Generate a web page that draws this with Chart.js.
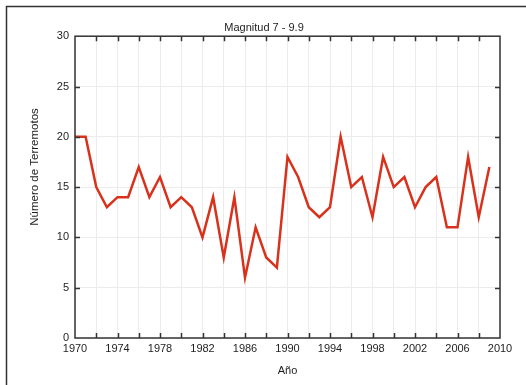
<!DOCTYPE html>
<html>
<head>
<meta charset="utf-8">
<script src="https://cdn.jsdelivr.net/npm/chart.js@4"></script>
<style>
    html, body { margin: 0; padding: 0; background: #fff; }
    #wrap { width: 526px; height: 385px; }
</style>
</head>
<body>
<div id="wrap"><canvas id="quakeChart" width="526" height="385"></canvas></div>
<script>
const years = [
    1970, 1971, 1972, 1973, 1974, 1975, 1976, 1977, 1978, 1979,
    1980, 1981, 1982, 1983, 1984, 1985, 1986, 1987, 1988, 1989,
    1990, 1991, 1992, 1993, 1994, 1995, 1996, 1997, 1998, 1999,
    2000, 2001, 2002, 2003, 2004, 2005, 2006, 2007, 2008, 2009,
];
const quakeCounts = [
    20, 20, 15, 13, 14, 14, 17, 14, 16, 13,
    14, 13, 10, 14, 8, 14, 6, 11, 8, 7,
    18, 16, 13, 12, 13, 20, 15, 16, 12, 18,
    15, 16, 13, 15, 16, 11, 11, 18, 12, 17,
];
const yTicks = [0, 5, 10, 15, 20, 25, 30];
const yTitle = "Número de Terremotos";

const textColor = "#1e1e1e";
const fontFamily = "'Liberation Sans', Arial, sans-serif";
const font = { family: fontFamily, size: 11 };

// Outer page frame, inward tick marks and the y title (sits above centre in the original)
const framePlugin = {
    id: "framePlugin",
    beforeDraw(chart) {
        const ctx = chart.ctx;
        ctx.save();
        ctx.fillStyle = "#fff";
        ctx.fillRect(0, 0, chart.width, chart.height);
        ctx.strokeStyle = "#333";
        ctx.lineWidth = 1.5;
        ctx.beginPath();
        ctx.moveTo(6.5, chart.height);
        ctx.lineTo(6.5, 6.5);
        ctx.lineTo(chart.width, 6.5);
        ctx.stroke();
        ctx.restore();
    },
    afterDraw(chart) {
        const ctx = chart.ctx;
        const a = chart.chartArea;
        const x = chart.scales.x;
        const y = chart.scales.y;
        ctx.save();
        ctx.strokeStyle = "#333";
        ctx.lineWidth = 1.5;
        ctx.beginPath();
        for (let v = 1972; v < 2010; v += 2) {
            const px = Math.round(x.getPixelForValue(v)) + 0.5;
            ctx.moveTo(px, a.bottom); ctx.lineTo(px, a.bottom - 5);
            ctx.moveTo(px, a.top); ctx.lineTo(px, a.top + 5);
        }
        yTicks.slice(1, -1).forEach(v => {
            const py = Math.round(y.getPixelForValue(v)) + 0.5;
            ctx.moveTo(a.left, py); ctx.lineTo(a.left + 5, py);
            ctx.moveTo(a.right, py); ctx.lineTo(a.right - 5, py);
        });
        ctx.stroke();
        ctx.strokeRect(a.left, a.top, a.right - a.left, a.bottom - a.top);

        ctx.translate(35, y.getPixelForValue(17));
        ctx.rotate(-Math.PI / 2);
        ctx.fillStyle = textColor;
        ctx.font = "11.5px " + fontFamily;
        ctx.textAlign = "center";
        ctx.textBaseline = "middle";
        ctx.fillText(yTitle, 0, 0);
        ctx.restore();
    },
};

new Chart(document.getElementById("quakeChart").getContext("2d"), {
    type: "line",
    data: {
        labels: years,
        datasets: [{
            label: "Magnitud 7 - 9.9",
            data: years.map((yr, i) => ({ x: yr, y: quakeCounts[i] })),
            borderColor: "#d8321c",
            borderWidth: 2.5,
            pointRadius: 0,
            tension: 0,
            fill: false,
        }],
    },
    options: {
        responsive: false,
        animation: false,
        layout: { padding: { left: 28, right: 26, top: 0, bottom: 7 } },
        plugins: {
            legend: { display: false },
            tooltip: { enabled: false },
            title: {
                display: true,
                text: "Magnitud 7 - 9.9",
                color: textColor,
                font: { ...font, size: 11, weight: "normal" },
                padding: { top: 21, bottom: 2 },
            },
        },
        scales: {
            x: {
                type: "linear",
                min: 1970,
                max: 2010,
                afterFit: s => { s.height = 40; },
                ticks: {
                    stepSize: 2,
                    color: textColor,
                    font: font,
                    padding: 4,
                    maxRotation: 0,
                    autoSkip: false,
                    callback: v => ((v - 1970) % 4 === 0 ? String(v) : ""),
                },
                grid: { color: "#ececec", lineWidth: 1, drawTicks: false },
                border: { display: false },
                title: {
                    display: true,
                    text: "Año",
                    color: textColor,
                    font: font,
                    padding: { top: 8, bottom: 0 },
                },
            },
            y: {
                min: 0,
                max: 30,
                afterFit: s => { s.width = 47; },
                ticks: {
                    stepSize: 5,
                    color: textColor,
                    font: font,
                    padding: 6,
                },
                grid: { color: "#ececec", lineWidth: 1, drawTicks: false },
                border: { display: false },
            },
        },
    },
    plugins: [framePlugin],
});
</script>
</body>
</html>
